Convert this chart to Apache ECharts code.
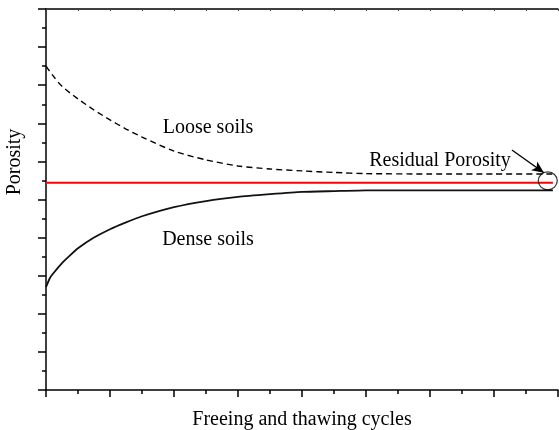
<!DOCTYPE html>
<html>
<head>
<meta charset="utf-8">
<script src="https://cdn.jsdelivr.net/npm/echarts@6/dist/echarts.min.js"></script>
<style>html,body{margin:0;padding:0;background:#fff}#c{width:559px;height:430px}</style>
</head>
<body>
<div id="c"></div>
<script>
// Data (x in cycle units, y in porosity units)
const looseX = [0, 0.1, 0.25, 0.5, 0.75, 1, 1.25, 1.5, 2, 2.5, 3, 3.5, 4, 4.5, 5, 6, 7, 7.92];
const looseY = [8.50, 8.27, 7.97, 7.64, 7.35, 7.09, 6.85, 6.64, 6.27, 6.04, 5.88, 5.80, 5.75, 5.71, 5.68, 5.67, 5.67, 5.67];
const denseX = [0, 0.05, 0.09, 0.25, 0.38, 0.5, 0.75, 1, 1.25, 1.5, 2, 2.5, 3, 3.5, 4, 4.5, 5, 6, 7, 7.92];
const denseY = [2.70, 2.90, 3.01, 3.33, 3.54, 3.72, 4.00, 4.22, 4.40, 4.56, 4.80, 4.96, 5.07, 5.14, 5.20, 5.22, 5.24, 5.24, 5.24, 5.24];
const residualX = [0, 7.92];
const residualY = [5.44, 5.44];
const circleAt = [7.84, 5.49];
const arrowFrom = [7.28, 6.30];
const arrowTo = [7.78, 5.70];
const xTitle = 'Freeing and thawing cycles';
const yTitle = 'Porosity';
const labels = ['Loose soils', 'Dense soils', 'Residual Porosity'];

const zip = (xs, ys) => xs.map((x, i) => [x, ys[i]]);
const FONT = 'Liberation Serif';

const chart = echarts.init(document.getElementById('c'));
chart.setOption({
  animation: false,
  backgroundColor: '#fff',
  grid: { left: 46, right: 1, top: 9, bottom: 40, outerBoundsMode: 'none', containLabel: false },
  xAxis: [{
    type: 'value', min: 0, max: 8, interval: 1,
    axisLine: { lineStyle: { color: '#000', width: 1.5 } },
    axisTick: { length: 7, lineStyle: { color: '#000', width: 1.5 } },
    minorTick: { show: true, splitNumber: 2, length: 4, lineStyle: { color: '#000', width: 1.5 } },
    axisLabel: { show: false },
    splitLine: { show: false },
    name: xTitle, nameLocation: 'middle', nameGap: 20,
    nameTextStyle: { fontFamily: FONT, fontSize: 20, color: '#000' }
  }, {
    type: 'value', min: 0, max: 8, interval: 1, position: 'top',
    axisLine: { show: true, onZero: false, lineStyle: { color: '#000', width: 1.5 } },
    axisTick: { show: true, inside: true, length: 2, lineStyle: { color: '#444', width: 1 } },
    minorTick: { show: true, splitNumber: 2, length: 2, lineStyle: { color: '#444', width: 1 } },
    axisLabel: { show: false }, splitLine: { show: false }
  }],
  yAxis: {
    type: 'value', min: 0, max: 10, interval: 1,
    axisLine: { show: true, lineStyle: { color: '#000', width: 1.5 } },
    axisTick: { show: true, length: 8, lineStyle: { color: '#000', width: 1.5 } },
    minorTick: { show: true, splitNumber: 2, length: 4, lineStyle: { color: '#000', width: 1.5 } },
    axisLabel: { show: false },
    splitLine: { show: false }
  },
  graphic: [
    { type: 'text', x: 15, y: 162, rotation: Math.PI / 2,
      style: { text: yTitle, font: '20px "' + FONT + '"', fill: '#000', align: 'center', verticalAlign: 'middle' } },
    { type: 'text', x: 208, y: 128,
      style: { text: labels[0], font: '20px "' + FONT + '"', fill: '#000', align: 'center', verticalAlign: 'middle' } },
    { type: 'text', x: 208, y: 240,
      style: { text: labels[1], font: '20px "' + FONT + '"', fill: '#000', align: 'center', verticalAlign: 'middle' } },
    { type: 'text', x: 440, y: 161,
      style: { text: labels[2], font: '20px "' + FONT + '"', fill: '#000', align: 'center', verticalAlign: 'middle' } }
  ],
  series: [
    { type: 'line', data: zip(looseX, looseY), showSymbol: false, smooth: 0.25,
      lineStyle: { color: '#000', width: 1.4, type: [6, 4] } },
    { type: 'line', data: zip(denseX, denseY), showSymbol: false, smooth: 0.15,
      lineStyle: { color: '#111', width: 1.8 } },
    { type: 'line', data: zip(residualX, residualY), showSymbol: false,
      lineStyle: { color: '#ff0000', width: 2 } },
    { type: 'scatter', data: [circleAt], symbol: 'circle', symbolSize: [19, 18],
      itemStyle: { color: 'rgba(0,0,0,0)', borderColor: '#000', borderWidth: 1.2 }, z: 5,
      markLine: {
        silent: true, symbol: ['none', 'arrow'], symbolSize: [8, 12],
        label: { show: false },
        lineStyle: { color: '#000', width: 1.3, type: 'solid' },
        data: [[{ coord: arrowFrom }, { coord: arrowTo }]]
      }
    }
  ]
});
</script>
</body>
</html>
